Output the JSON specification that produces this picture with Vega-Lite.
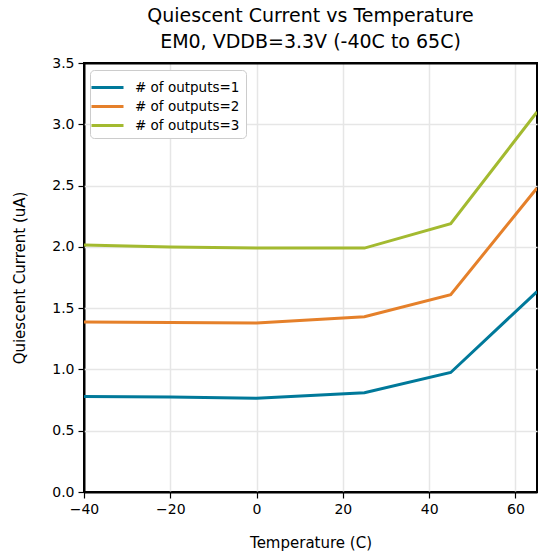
{
  "$schema": "https://vega.github.io/schema/vega-lite/v6.json",
  "width": 453,
  "height": 429,
  "autosize": {"type": "none"},
  "padding": {"left": 84, "top": 63, "right": 1, "bottom": 67},
  "background": "white",
  "view": {"stroke": "black", "strokeWidth": 2},
  "title": {
    "text": ["Quiescent Current vs Temperature", "EM0, VDDB=3.3V (-40C to 65C)"],
    "font": "DejaVu Sans",
    "fontSize": 19,
    "fontWeight": "normal",
    "color": "black",
    "anchor": "middle",
    "lineHeight": 26,
    "offset": 4
  },
  "config": {
    "view": {"stroke": "black", "strokeWidth": 2},
    "font": "DejaVu Sans",
    "axis": {
      "labelFont": "DejaVu Sans",
      "labelFontSize": 14,
      "labelColor": "black",
      "labelFlush": false,
      "titleFont": "DejaVu Sans",
      "titleFontSize": 15,
      "titleFontWeight": "normal",
      "titleColor": "black",
      "domain": false,
      "tickColor": "black",
      "tickSize": 6,
      "tickWidth": 1.2,
      "gridColor": "#e6e6e6",
      "gridWidth": 1.5
    }
  },
  "data": {
    "values": [
      {"t": -40, "q": 0.78, "s": "# of outputs=1"},
      {"t": -20, "q": 0.775, "s": "# of outputs=1"},
      {"t": 0, "q": 0.765, "s": "# of outputs=1"},
      {"t": 25, "q": 0.81, "s": "# of outputs=1"},
      {"t": 45, "q": 0.975, "s": "# of outputs=1"},
      {"t": 65, "q": 1.635, "s": "# of outputs=1"},
      {"t": -40, "q": 1.387, "s": "# of outputs=2"},
      {"t": -20, "q": 1.382, "s": "# of outputs=2"},
      {"t": 0, "q": 1.378, "s": "# of outputs=2"},
      {"t": 25, "q": 1.43, "s": "# of outputs=2"},
      {"t": 45, "q": 1.61, "s": "# of outputs=2"},
      {"t": 65, "q": 2.48, "s": "# of outputs=2"},
      {"t": -40, "q": 2.015, "s": "# of outputs=3"},
      {"t": -20, "q": 1.998, "s": "# of outputs=3"},
      {"t": 0, "q": 1.99, "s": "# of outputs=3"},
      {"t": 25, "q": 1.99, "s": "# of outputs=3"},
      {"t": 45, "q": 2.19, "s": "# of outputs=3"},
      {"t": 65, "q": 3.1, "s": "# of outputs=3"}
    ]
  },
  "mark": {"type": "line", "strokeWidth": 3, "clip": true},
  "encoding": {
    "x": {
      "field": "t",
      "type": "quantitative",
      "scale": {"domain": [-40, 65], "nice": false, "zero": false},
      "axis": {
        "values": [-40, -20, 0, 20, 40, 60],
        "title": "Temperature (C)",
        "titlePadding": 19,
        "labelPadding": 4,
        "gridColor": {"condition": {"test": "datum.value == -40", "value": "black"}, "value": "#e6e6e6"},
        "gridWidth": {"condition": {"test": "datum.value == -40", "value": 2}, "value": 1.5}
      }
    },
    "y": {
      "field": "q",
      "type": "quantitative",
      "scale": {"domain": [0, 3.5], "nice": false},
      "axis": {
        "values": [0, 0.5, 1, 1.5, 2, 2.5, 3, 3.5],
        "format": ".1f",
        "title": "Quiescent Current (uA)",
        "titlePadding": 24,
        "labelPadding": 4,
        "gridColor": {"condition": {"test": "datum.value == 0 || datum.value == 3.5", "value": "black"}, "value": "#e6e6e6"},
        "gridWidth": {"condition": {"test": "datum.value == 0 || datum.value == 3.5", "value": 2}, "value": 1.5}
      }
    },
    "color": {
      "field": "s",
      "type": "nominal",
      "scale": {"domain": ["# of outputs=1", "# of outputs=2", "# of outputs=3"], "range": ["#00799A", "#E5802A", "#A3BA30"]},
      "legend": {
        "title": null,
        "orient": "none",
        "legendX": 6,
        "legendY": 7,
        "fillColor": "white",
        "strokeColor": "#cccccc",
        "cornerRadius": 4,
        "padding": 6,
        "labelFont": "DejaVu Sans",
        "labelFontSize": 13.5,
        "labelColor": "black",
        "labelOffset": 16,
        "symbolType": "M-1.6,0H1.6",
        "symbolStrokeWidth": 3,
        "symbolSize": 400,
        "rowPadding": 1
      }
    }
  }
}
